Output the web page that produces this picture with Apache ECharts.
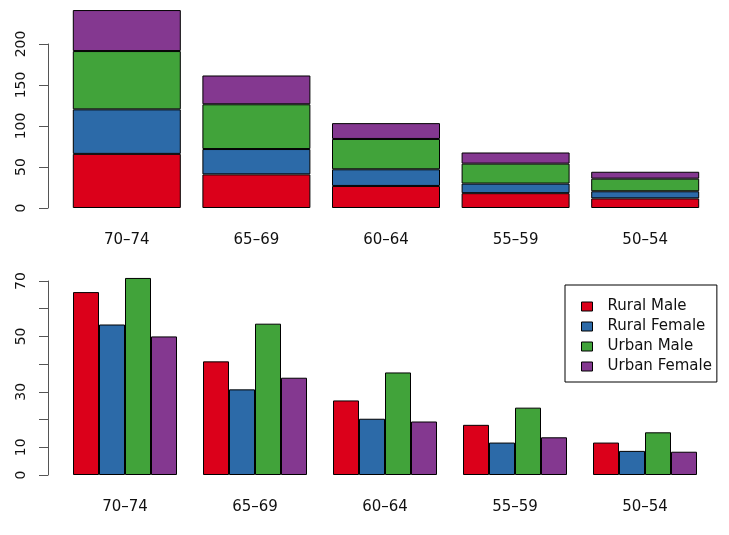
<!DOCTYPE html>
<html><head><meta charset="utf-8">
<script src="https://cdn.jsdelivr.net/npm/echarts@6/dist/echarts.min.js"></script>
<style>html,body{margin:0;padding:0;background:#fff}#c{width:729px;height:535px}</style>
</head><body><div id="c"></div>
<script>
var categories = ['70\u201374','65\u201369','60\u201364','55\u201359','50\u201354'];
var seriesNames = ['Rural Male','Rural Female','Urban Male','Urban Female'];
var ruralMale = [66.0, 41.0, 26.9, 18.1, 11.7];
var ruralFemale = [54.3, 30.9, 20.3, 11.7, 8.7];
var urbanMale = [71.1, 54.6, 37.0, 24.3, 15.4];
var urbanFemale = [50.0, 35.1, 19.3, 13.6, 8.4];
var topTicks = [0, 50, 100, 150, 200];
var bottomTickLabels = [0, 10, 30, 50, 70];

var values = [ruralMale, ruralFemale, urbanMale, urbanFemale];
var colors = ['#DB001A', '#2C6AA8', '#41A33A', '#843890'];
var font = 'DejaVu Sans, sans-serif';

var chart = echarts.init(document.getElementById('c'), null, {renderer:'canvas'});
var series = [];
seriesNames.forEach(function(n, i){
  series.push({
    name: n, type: 'bar', stack: 'total', xAxisIndex: 0, yAxisIndex: 0,
    data: values[i], barWidth: 108, clip: false,
    itemStyle: {color: colors[i], borderColor: '#000', borderWidth: 1},
    emphasis: {disabled: true}, animation: false
  });
});
seriesNames.forEach(function(n, i){
  series.push({
    name: n, type: 'bar', xAxisIndex: 1, yAxisIndex: 1,
    data: values[i], barWidth: 26, barGap: '0%', clip: false,
    itemStyle: {color: colors[i], borderColor: '#000', borderWidth: 1},
    emphasis: {disabled: true}, animation: false
  });
});

function yAxisCommon(){
  return {
    type: 'value', splitLine: {show: false},
    axisLine: {show: true, lineStyle: {color: '#555', width: 1}},
    axisTick: {show: true, length: 9, lineStyle: {color: '#555', width: 1}},
    axisLabel: {rotate: 90, margin: 20, color: '#111', fontSize: 14, fontFamily: font}
  };
}
var y0 = yAxisCommon();
y0.gridIndex = 0; y0.min = topTicks[0]; y0.max = topTicks[topTicks.length-1]; y0.interval = 50; y0.offset = 14;
var y1 = yAxisCommon();
y1.gridIndex = 1; y1.min = 0; y1.max = 70; y1.interval = 10; y1.offset = 12;
y1.axisLabel.formatter = function(v){ return bottomTickLabels.indexOf(v) >= 0 ? String(v) : ''; };

function xAxisCommon(g){
  return {
    type: 'category', gridIndex: g, data: categories,
    axisLine: {show: false}, axisTick: {show: false},
    axisLabel: {margin: 25, color: '#111', fontSize: 15, fontFamily: font}
  };
}

chart.setOption({
  animation: false,
  grid: [
    {left: 62, width: 648, top: 44, height: 164},
    {left: 60, width: 650, top: 281, height: 194}
  ],
  xAxis: [xAxisCommon(0), xAxisCommon(1)],
  yAxis: [y0, y1],
  legend: {
    data: seriesNames, orient: 'vertical', left: 565, top: 285,
    padding: [14, 5, 8, 16], itemGap: 5, itemWidth: 11, itemHeight: 9,
    borderColor: '#000', borderWidth: 1, icon: 'rect',
    itemStyle: {borderColor: '#000', borderWidth: 1},
    textStyle: {fontSize: 15, lineHeight: 15, color: '#111', fontFamily: font, padding: [0, 0, 0, 10]},
    selectedMode: false
  },
  series: series
});
</script></body></html>
